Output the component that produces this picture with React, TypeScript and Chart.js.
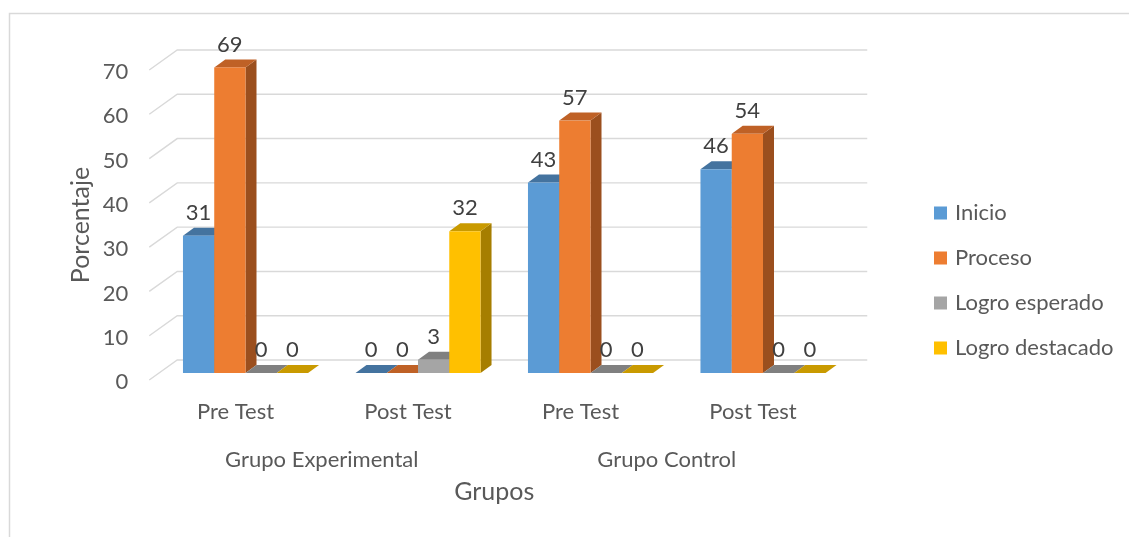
import React, { useEffect, useRef } from "react";
import { Chart, registerables } from "chart.js";

Chart.register(...registerables);

const CATEGORIES = ["Pre Test", "Post Test", "Pre Test", "Post Test"];
const GROUPS = ["Grupo Experimental", "Grupo Control"];
const SERIES_NAMES = ["Inicio", "Proceso", "Logro esperado", "Logro destacado"];
const INICIO = [31, 0, 43, 46];
const PROCESO = [69, 0, 57, 54];
const LOGRO_ESPERADO = [0, 3, 0, 0];
const LOGRO_DESTACADO = [0, 32, 0, 0];
const Y_MIN = 0;
const Y_MAX = 70;
const Y_STEP = 10;
const Y_TITLE = "Porcentaje";
const X_TITLE = "Grupos";

const FRONT_COLORS = ["#5B9BD5", "#ED7D31", "#A5A5A5", "#FFC000"];
const TOP_COLORS = ["#44739F", "#BF6126", "#808080", "#C99A00"];
const SIDE_COLORS = ["#3A6590", "#9B4F1E", "#6B6B6B", "#A67E00"];

const FONT = "Lato, 'Open Sans', sans-serif";
const TEXT = "#595959";

const threeD = {
  id: "threeD",
  beforeDatasetsDraw(chart: any) {
    const ctx = chart.ctx;
    const { left, right } = chart.chartArea;
    const ys = chart.scales.y;
    ctx.save();
    // side wall + back wall gridlines
    ctx.strokeStyle = "#D9D9D9";
    ctx.lineWidth = 1.4;
    for (let v = Y_MIN; v <= Y_MAX; v += Y_STEP) {
      const py = ys.getPixelForValue(v);
      ctx.beginPath();
      ctx.moveTo(left, py);
      ctx.lineTo(left + 28, py - 20);
      ctx.lineTo(right + 28, py - 20);
      ctx.stroke();
    }
    const metas = chart.data.datasets.map((_: any, i: number) => chart.getDatasetMeta(i));
    const n = chart.data.labels.length;
    const poly = (pts: number[][], color: string) => {
      ctx.beginPath();
      ctx.moveTo(pts[0][0], pts[0][1]);
      for (let k = 1; k < pts.length; k++) ctx.lineTo(pts[k][0], pts[k][1]);
      ctx.closePath();
      ctx.fillStyle = color;
      ctx.fill();
    };
    const labels: any[] = [];
    for (let i = 0; i < n; i++) {
      for (let d = 0; d < metas.length; d++) {
        const el = metas[d].data[i];
        const { x, y, base, width } = el.getProps(["x", "y", "base", "width"], true);
        const l = x - width / 2 + 10;
        const r = x + width / 2 + 10;
        const t = y - 7;
        const b = base - 7;
        poly([[r, t], [r + 11, t - 8], [r + 11, b - 8], [r, b]], SIDE_COLORS[d]);
        poly([[l, t], [r, t], [r + 11, t - 8], [l + 11, t - 8]], TOP_COLORS[d]);
        if (b - t > 0.1) {
          ctx.fillStyle = FRONT_COLORS[d];
          ctx.fillRect(l, t, r - l, b - t);
        }
        labels.push({ x: (l + r) / 2, y: t - 23, v: chart.data.datasets[d].data[i] });
      }
    }
    ctx.fillStyle = "#404040";
    ctx.font = `22px ${FONT}`;
    ctx.textAlign = "center";
    ctx.textBaseline = "middle";
    labels.forEach((lb) => ctx.fillText(String(lb.v), lb.x, lb.y));
    ctx.restore();
    return false;
  },
  afterDraw(chart: any) {
    const ctx = chart.ctx;
    ctx.save();
    // outer chart border (cropped at right/bottom)
    ctx.strokeStyle = "#D9D9D9";
    ctx.lineWidth = 1.5;
    ctx.beginPath();
    ctx.moveTo(9.5, 600);
    ctx.lineTo(9.5, 13.5);
    ctx.lineTo(1200, 13.5);
    ctx.stroke();
    // legend
    ctx.font = `22px ${FONT}`;
    ctx.textAlign = "left";
    ctx.textBaseline = "middle";
    SERIES_NAMES.forEach((name, k) => {
      const cy = 213 + k * 45;
      ctx.fillStyle = FRONT_COLORS[k];
      ctx.fillRect(934, cy - 6.5, 13, 13);
      ctx.fillStyle = TEXT;
      ctx.fillText(name, 955, cy);
    });
    ctx.restore();
  },
};

export default function App() {
  const ref = useRef<HTMLCanvasElement | null>(null);
  useEffect(() => {
    if (!ref.current) return;
    const seriesValues = [INICIO, PROCESO, LOGRO_ESPERADO, LOGRO_DESTACADO];
    const chart = new Chart(ref.current, {
      type: "bar",
      data: {
        labels: CATEGORIES,
        datasets: SERIES_NAMES.map((name, k) => ({
          label: name,
          data: seriesValues[k],
          backgroundColor: FRONT_COLORS[k],
          categoryPercentage: 0.725,
          barPercentage: 1,
        })),
      },
      options: {
        animation: false,
        responsive: true,
        maintainAspectRatio: false,
        devicePixelRatio: 1,
        layout: { padding: { left: 0, right: 289.75, top: 70, bottom: 27 } },
        plugins: { legend: { display: false }, tooltip: { enabled: false } },
        scales: {
          y: {
            min: Y_MIN,
            max: Y_MAX,
            grid: { display: false, drawTicks: false },
            border: { display: false },
            ticks: {
              stepSize: Y_STEP,
              padding: 21,
              labelOffset: 2,
              color: TEXT,
              font: { family: FONT, size: 22 },
            },
            title: {
              display: true,
              text: Y_TITLE,
              color: TEXT,
              font: { family: FONT, size: 25 },
              padding: { top: 66, bottom: 0 },
            },
            afterFit: (s: any) => {
              s.width = 149.25;
            },
          },
          x: {
            type: "category",
            position: "bottom",
            weight: 0,
            offset: true,
            grid: { display: false, drawTicks: false },
            border: { display: false },
            ticks: {
              padding: 19,
              autoSkip: false,
              maxRotation: 0,
              color: TEXT,
              font: { family: FONT, size: 22 },
            },
            afterFit: (s: any) => {
              s.height = 60;
            },
          },
          x2: {
            type: "category",
            position: "bottom",
            weight: 1,
            offset: true,
            labels: GROUPS,
            grid: { display: false, drawTicks: false },
            border: { display: false },
            ticks: {
              padding: 7,
              autoSkip: false,
              maxRotation: 0,
              color: TEXT,
              font: { family: FONT, size: 22 },
            },
            title: {
              display: true,
              text: X_TITLE,
              color: TEXT,
              font: { family: FONT, size: 25 },
              padding: { top: 0, bottom: 3 },
            },
            afterFit: (s: any) => {
              s.height = 70;
            },
          },
        },
      },
      plugins: [threeD],
    } as any);
    return () => chart.destroy();
  }, []);
  return (
    <div style={{ position: "absolute", left: 0, top: 0, width: 1129, height: 537, background: "#fff" }}>
      <canvas ref={ref} />
    </div>
  );
}
